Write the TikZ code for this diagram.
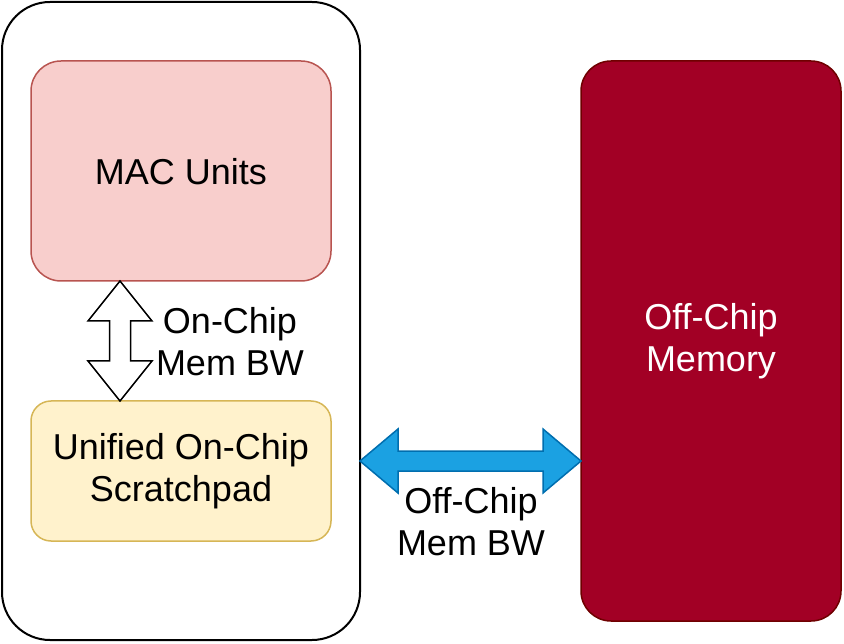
\documentclass[tikz,border=0pt]{standalone}
\usepackage{fontspec}
\setmainfont{Liberation Sans}
\usetikzlibrary{calc}
\definecolor{macfill}{HTML}{F8CECC}
\definecolor{macline}{HTML}{B85450}
\definecolor{padfill}{HTML}{FFF2CC}
\definecolor{padline}{HTML}{D6B656}
\definecolor{memfill}{HTML}{A20025}
\definecolor{memline}{HTML}{6F0000}
\definecolor{arrfill}{HTML}{1BA1E2}
\definecolor{arrline}{HTML}{006EAF}
\tikzset{
  lbl/.style={font=\fontsize{36}{42}\selectfont, align=center, inner sep=0pt},
  boxr/.style={line width=1.5pt, line join=round},
}
\begin{document}
\begin{tikzpicture}[x=1pt,y=-1pt]
\useasboundingbox (0,0) rectangle (844,644);
% outer chip
\draw[line width=2pt, rounded corners=48pt] (2,2) rectangle (360,640);
\coordinate (outer) at (181,321);
% MAC units
\draw[boxr, draw=macline, fill=macfill, rounded corners=30pt] (31,61) rectangle (331,281);
\node[lbl] (mac) at (181,172) {MAC Units};
% scratchpad
\draw[boxr, draw=padline, fill=padfill, rounded corners=20pt] (31,401) rectangle (331,541);
\node[lbl] (pad) at (181,471) {Unified On-Chip\\Scratchpad};
% off-chip memory
\draw[boxr, draw=memline, fill=memfill, rounded corners=30pt] (581,61) rectangle (841,621);
\node[lbl, text=white] (mem) at (711,341) {Off-Chip\\Memory};
% vertical on-chip arrow
\coordinate (vtop) at (120,281);
\coordinate (vbot) at (120,401);
\draw[line width=1.5pt, fill=white, line join=miter]
  (vtop) -- ++(32,40) -- ++(-21.5,0) -- ++(0,40) -- ++(21.5,0) -- (vbot)
  -- ++(-32,-40) -- ++(21.5,0) -- ++(0,-40) -- ++(-21.5,0) -- cycle;
\node[lbl] (onbw) at (230,342) {On-Chip\\Mem BW};
% horizontal off-chip arrow
\coordinate (hl) at (360,461);
\coordinate (hr) at (581,461);
\draw[line width=1.5pt, draw=arrline, fill=arrfill, line join=miter]
  (hl) -- ++(38,-32) -- ++(0,22) -- ++(145,0) -- ++(0,-22) -- (hr)
  -- ++(-38,32) -- ++(0,-22) -- ++(-145,0) -- ++(0,22) -- cycle;
\node[lbl] (offbw) at (471,522) {Off-Chip\\Mem BW};
\end{tikzpicture}
\end{document}
